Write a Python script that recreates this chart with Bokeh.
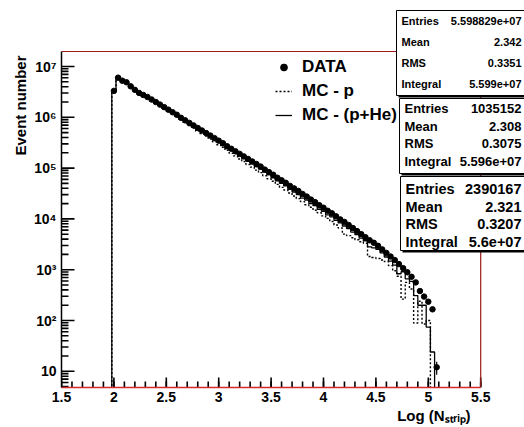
import math
from bokeh.plotting import figure
from bokeh.models import (Range1d, FixedTicker, CustomJSTickFormatter, Legend,
                          LegendItem, Title, Label)
from bokeh.embed import file_html
from bokeh.resources import INLINE

# ---------------- data ----------------
BIN_LOW = 1.98      # lower edge of first bin
BIN_WIDTH = 0.04

data_log10 = [
    6.52, 6.78, 6.72, 6.69, 6.61, 6.54, 6.48, 6.44, 6.40, 6.35,
    6.30, 6.25, 6.20, 6.15, 6.10, 6.05, 5.99, 5.94, 5.89, 5.84,
    5.79, 5.74, 5.69, 5.64, 5.59, 5.54, 5.49, 5.43, 5.38, 5.33,
    5.28, 5.23, 5.18, 5.13, 5.08, 5.03, 4.97, 4.92, 4.87, 4.81,
    4.76, 4.71, 4.65, 4.60, 4.55, 4.49, 4.44, 4.38, 4.33, 4.27,
    4.22, 4.16, 4.11, 4.05, 3.99, 3.94, 3.88, 3.82, 3.76, 3.70,
    3.64, 3.58, 3.53, 3.47, 3.40, 3.33, 3.26, 3.19, 3.11, 3.03,
    2.95, 2.86, 2.75, 2.58, 2.47, 2.37, 2.22, 1.08,
]
mc_p_log10 = [
    6.53, 6.78, 6.73, 6.68, 6.62, 6.55, 6.48, 6.43, 6.38, 6.33,
    6.28, 6.23, 6.17, 6.12, 6.07, 6.01, 5.96, 5.90, 5.84, 5.79,
    5.73, 5.68, 5.63, 5.57, 5.52, 5.46, 5.41, 5.35, 5.29, 5.24,
    5.18, 5.13, 5.07, 5.02, 4.96, 4.91, 4.85, 4.79, 4.74, 4.68,
    4.62, 4.57, 4.51, 4.45, 4.40, 4.34, 4.28, 4.23, 4.17, 4.12,
    4.06, 4.01, 3.95, 3.88, 3.82, 3.70, 3.67, 3.63, 3.59, 3.55,
    3.52, 3.26, 3.24, 3.22, 3.19, 3.16, 3.08, 2.98, 2.87, 2.42,
    2.75, 2.62, 1.95, 2.38, 1.93, 2.00,
]
mc_phe_log10 = [
    6.52, 6.79, 6.73, 6.69, 6.62, 6.55, 6.48, 6.44, 6.39, 6.35,
    6.29, 6.24, 6.19, 6.14, 6.09, 6.04, 5.98, 5.93, 5.88, 5.83,
    5.77, 5.72, 5.67, 5.62, 5.56, 5.51, 5.46, 5.40, 5.35, 5.30,
    5.24, 5.19, 5.14, 5.09, 5.03, 4.98, 4.92, 4.87, 4.81, 4.75,
    4.70, 4.65, 4.58, 4.53, 4.48, 4.41, 4.37, 4.30, 4.26, 4.19,
    4.15, 4.08, 4.04, 3.97, 3.92, 3.86, 3.81, 3.74, 3.69, 3.62,
    3.57, 3.45, 3.43, 3.40, 3.33, 3.25, 3.17, 3.09, 2.92, 2.96,
    2.82, 2.77, 2.49, 2.30, 2.30, 1.87, 1.38,
]

legend_labels = ["DATA", "MC - p", "MC - (p+He)"]

stats_data = [("Entries", "5.598829e+07"), ("Mean", "2.342"),
              ("RMS", "0.3351"), ("Integral", "5.599e+07")]
stats_mcp = [("Entries", "1035152"), ("Mean", "2.308"),
             ("RMS", "0.3075"), ("Integral", "5.596e+07")]
stats_mcphe = [("Entries", "2390167"), ("Mean", "2.321"),
               ("RMS", "0.3207"), ("Integral", "5.6e+07")]

x_major_ticks = [1.5, 2.0, 2.5, 3.0, 3.5, 4.0, 4.5, 5.0, 5.5]
y_major_ticks = [1e1, 1e2, 1e3, 1e4, 1e5, 1e6, 1e7]

# ---------------- layout geometry ----------------
W, H = 524, 427
FRAME_L = 61          # px of x = 1.5
FRAME_B = 387         # px of frame bottom
PX_PER_X = 104.8
Y7_PX, PX_PER_DEC = 66.0, 50.8
X_START = 1.5
X_END = X_START + (W - FRAME_L) / PX_PER_X
Y_LO = 10 ** (7 - (FRAME_B - Y7_PX) / PX_PER_DEC)
Y_HI = 10 ** (7 + Y7_PX / PX_PER_DEC)
ROOT_TOP = 10 ** (7 + (Y7_PX - 51) / PX_PER_DEC)
ROOT_RIGHT = 5.5
FLOOR = 1.0
FONT = "Liberation Sans"

x_minor_ticks = [round(1.5 + 0.1 * i, 2) for i in range(41)]
y_minor_ticks = [m * 10 ** k for k in range(0, 8) for m in range(2, 10)
                 if Y_LO < m * 10 ** k < ROOT_TOP]


def px_x(px):
    return X_START + (px - FRAME_L) / PX_PER_X


def px_y(py):
    return 10 ** (7 - (py - Y7_PX) / PX_PER_DEC)


def centers(n):
    return [BIN_LOW + BIN_WIDTH * (i + 0.5) for i in range(n)]


def step_xy(log_vals):
    n = len(log_vals)
    edges = [BIN_LOW + BIN_WIDTH * i for i in range(n + 1)]
    xs, ys = [edges[0]], [FLOOR]
    for i, v in enumerate(log_vals):
        c = 10 ** v
        xs += [edges[i], edges[i + 1]]
        ys += [c, c]
    xs.append(edges[-1])
    ys.append(FLOOR)
    return xs, ys


p = figure(width=W, height=H, x_range=Range1d(X_START, X_END),
           y_range=Range1d(Y_LO, Y_HI), y_axis_type="log",
           output_backend="svg", toolbar_location=None, title=None,
           min_border_left=FRAME_L, min_border_right=0, min_border_top=0,
           min_border_bottom=H - FRAME_B)
p.outline_line_color = None
p.xgrid.visible = False
p.ygrid.visible = False
p.background_fill_color = "white"
p.border_fill_color = "white"

# x axis
xa = p.xaxis[0]
xa.ticker = FixedTicker(ticks=x_major_ticks, minor_ticks=x_minor_ticks)
xa.formatter = CustomJSTickFormatter(code="""
    return (Math.abs(tick - Math.round(tick)) < 1e-9) ? String(Math.round(tick)) : tick.toFixed(1);
""")
xa.bounds = (1.5, ROOT_RIGHT)
xa.axis_line_color = "#d42a2a"
xa.axis_line_width = 1.5
xa.major_tick_in = 0
xa.major_tick_out = 0
xa.minor_tick_in = 0
xa.minor_tick_out = 0
xa.major_label_text_font = FONT
xa.major_label_text_font_style = "bold"
xa.major_label_text_font_size = "14px"
xa.major_label_text_color = "black"
xa.major_label_standoff = 4

# y axis
ya = p.yaxis[0]
ya.ticker = FixedTicker(ticks=y_major_ticks, minor_ticks=y_minor_ticks)
ya.formatter = CustomJSTickFormatter(code="""
    const e = Math.round(Math.log10(tick));
    if (e == 1) { return "10"; }
    const sup = ["\u2070", "\u00b9", "\u00b2", "\u00b3", "\u2074", "\u2075", "\u2076", "\u2077", "\u2078", "\u2079"];
    return "10" + sup[e];
""")
ya.bounds = (Y_LO, ROOT_TOP)
ya.axis_line_color = "black"
ya.axis_line_width = 1.5
ya.major_tick_in = 0
ya.major_tick_out = 0
ya.minor_tick_in = 0
ya.minor_tick_out = 0
ya.major_label_text_font = FONT
ya.major_label_text_font_style = "bold"
ya.major_label_text_font_size = "14px"
ya.major_label_text_color = "black"
ya.major_label_standoff = 5

# inward ROOT-style ticks (rays from the axes, length in screen pixels)
p.ray(x=x_major_ticks, y=[Y_LO] * len(x_major_ticks), length=10,
      length_units="screen", angle=math.pi / 2, line_color="black", line_width=1.6)
p.ray(x=x_minor_ticks, y=[Y_LO] * len(x_minor_ticks), length=6,
      length_units="screen", angle=math.pi / 2, line_color="black", line_width=1.6)
p.ray(x=[X_START] * len(y_major_ticks), y=y_major_ticks, length=13,
      length_units="screen", angle=0, line_color="black", line_width=1.6)
p.ray(x=[X_START] * len(y_minor_ticks), y=y_minor_ticks, length=7,
      length_units="screen", angle=0, line_color="black", line_width=1.6)

# axis titles
p.add_layout(Title(text="Event number", align="right", offset=55, standoff=6,
                   text_font=FONT, text_font_style="bold",
                   text_font_size="15px", text_color="black"), "left")
p.add_layout(Title(text="Log (N\u209b\u209c\u1d63\u1d62\u209a)", align="right",
                   offset=54, standoff=0, text_font=FONT,
                   text_font_style="bold", text_font_size="15px",
                   text_color="black"), "below")

# histograms
xs_p, ys_p = step_xy(mc_p_log10)
r_mcp = p.line(xs_p, ys_p, line_color="black", line_width=1.4, line_dash="2 2")
xs_h, ys_h = step_xy(mc_phe_log10)
r_mch = p.line(xs_h, ys_h, line_color="black", line_width=1.3)

data_x = centers(len(data_log10))
data_y = [10 ** v for v in data_log10]
p.segment(x0=data_x, x1=data_x,
          y0=[c - math.sqrt(c) for c in data_y],
          y1=[c + math.sqrt(c) for c in data_y],
          line_color="black", line_width=1.2)
r_data = p.scatter(data_x, data_y, marker="circle", size=5.5,
                   fill_color="black", line_color="black")

# ROOT frame: top and right borders
p.line([1.5, ROOT_RIGHT, ROOT_RIGHT], [ROOT_TOP, ROOT_TOP, Y_LO],
       line_color="#9c1a1a", line_width=1.2)

legend = Legend(items=[LegendItem(label=legend_labels[0], renderers=[r_data]),
                       LegendItem(label=legend_labels[1], renderers=[r_mcp]),
                       LegendItem(label=legend_labels[2], renderers=[r_mch])],
                location=(214, 262), glyph_width=17, glyph_height=20,
                label_height=20, label_standoff=10, spacing=4, padding=0,
                margin=0, background_fill_alpha=0, border_line_color=None,
                label_text_font=FONT, label_text_font_style="bold",
                label_text_font_size="17px", label_text_color="black")
p.add_layout(legend)

# statistics boxes
stat_boxes = [
    dict(left=396, top=10, bottom=95, size="11px", rows=[20, 41, 62, 83], stats=stats_data),
    dict(left=399, top=98, bottom=173, size="13px", rows=[108, 126, 143, 161], stats=stats_mcp),
    dict(left=400, top=176, bottom=250, size="14.5px", rows=[188, 206, 223, 241], stats=stats_mcphe),
]
for b in stat_boxes:
    p.quad(left=px_x(b["left"] + 2), right=px_x(560), top=px_y(b["top"] + 2),
           bottom=px_y(b["bottom"] + 2), fill_color="black", line_color=None)
    p.quad(left=px_x(b["left"]), right=px_x(560), top=px_y(b["top"]),
           bottom=px_y(b["bottom"]), fill_color="white", line_color="black",
           line_width=1)
    for (name, val), ry in zip(b["stats"], b["rows"]):
        p.add_layout(Label(x=px_x(b["left"] + 5), y=px_y(ry), text=name,
                           text_align="left", text_baseline="middle",
                           text_font=FONT, text_font_style="bold",
                           text_font_size=b["size"], text_color="black"))
        p.add_layout(Label(x=px_x(521), y=px_y(ry), text=val,
                           text_align="right", text_baseline="middle",
                           text_font=FONT, text_font_style="bold",
                           text_font_size=b["size"], text_color="black"))

with open("out.html", "w", encoding="utf-8") as f:
    f.write(file_html(p, INLINE))
